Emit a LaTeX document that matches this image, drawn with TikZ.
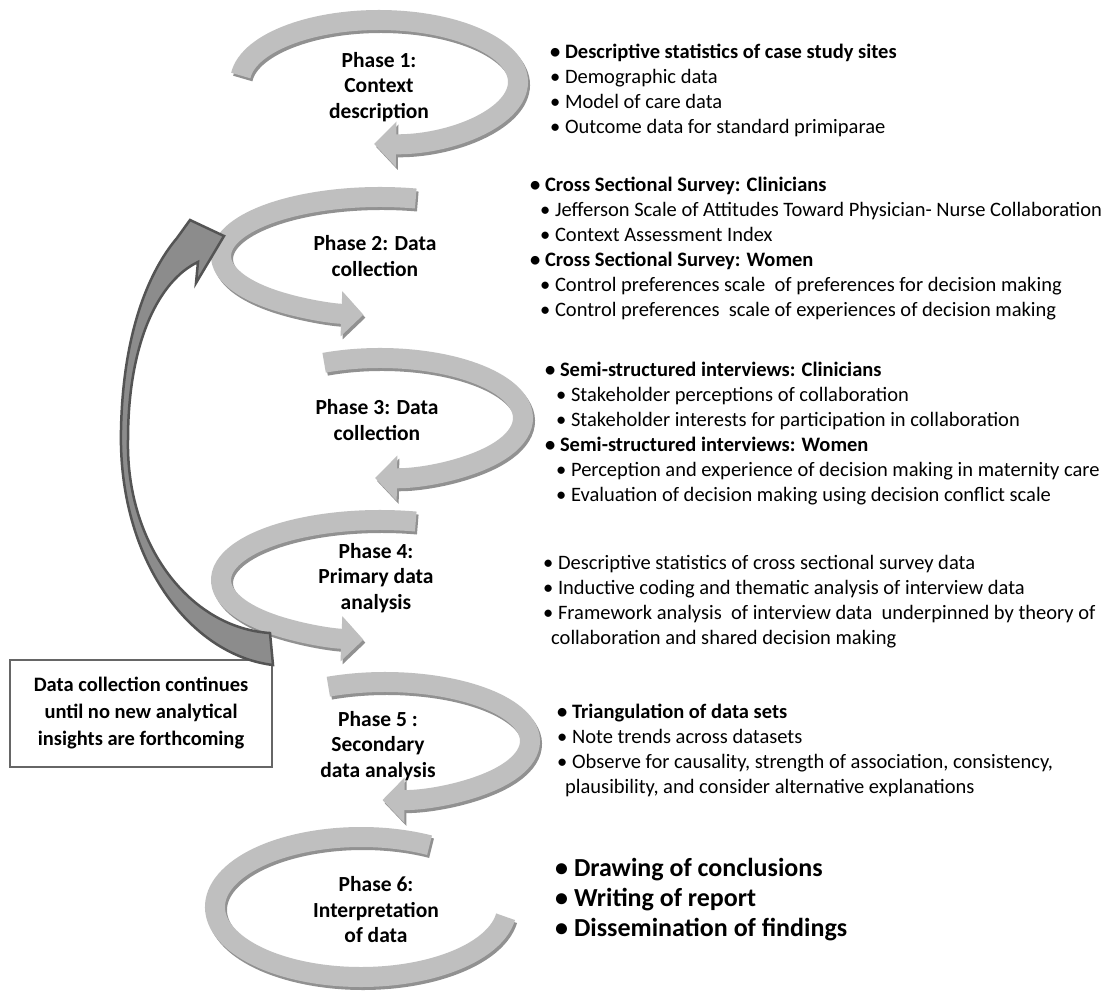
\documentclass[tikz,border=0pt]{standalone}
\usepackage{fontspec}
\setmainfont{Carlito}
\usepackage{xcolor}
\usetikzlibrary{arrows.meta}

\definecolor{bandgrey}{gray}{0.75}
\definecolor{bandshade}{gray}{0.57}
\definecolor{loopfill}{gray}{0.55}
\definecolor{loopline}{gray}{0.33}
\definecolor{boxline}{gray}{0.4}

\tikzset{
  band/.style={line width=20pt, draw=bandgrey},
  bandshadow/.style={line width=20pt, draw=bandshade},
  phasetip/.style={-{Triangle[length=22pt,width=44pt]}},
  phaselabel/.style={font=\fontsize{21.5}{25.5}\selectfont\bfseries, align=center, inner sep=0pt},
  itemlist/.style={font=\fontsize{20.5}{25}\selectfont, align=left, anchor=west, inner sep=0pt},
  biglist/.style={font=\fontsize{26}{30}\selectfont\bfseries, align=left, anchor=west, inner sep=0pt},
  loopbox/.style={draw=boxline, line width=1.5pt, fill=white, minimum width=262pt, minimum height=107pt, align=center, font=\fontsize{20.5}{27}\selectfont\bfseries},
  looparrow/.style={fill=loopfill, draw=loopline, line width=2.5pt, line join=miter}
}

% grey curved arrow: centre x, centre y, x radius, y radius, start, end, tip
\newcommand{\phasearrow}[7]{%
  \draw[bandshadow,#7] ([shift={(#1+2,#2+3)}]#5:#3 and #4) arc[start angle=#5, end angle=#6, x radius=#3, y radius=#4];
  \draw[band,#7] ([shift={(#1,#2)}]#5:#3 and #4) arc[start angle=#5, end angle=#6, x radius=#3, y radius=#4];
}

\begin{document}
\begin{tikzpicture}[x=1pt, y=-1pt]
  \useasboundingbox[fill=white] (0,0) rectangle (1118,990);

  % Phase arrows
  \phasearrow{379}{82}{139}{62}{186}{452}{phasetip}
  \phasearrow{380}{256}{159}{59}{283}{96}{phasetip}
  \phasearrow{380}{418}{143}{60}{247}{452}{phasetip}
  \phasearrow{380}{580}{159}{60}{283}{96}{phasetip}
  \phasearrow{385}{741}{145}{59}{247}{451}{phasetip}
  \phasearrow{361}{907}{146}{70}{298}{8}{}

  % Phase labels
  \node[phaselabel] (p1) at (379,87) {Phase 1:\\Context\\description};
  \node[phaselabel] (p2) at (375,256) {Phase 2: Data\\collection};
  \node[phaselabel] (p3) at (377,420) {Phase 3: Data\\collection};
  \node[phaselabel] (p4) at (376,578) {Phase 4:\\Primary data\\analysis};
  \node[phaselabel] (p5) at (378,746) {Phase 5 :\\Secondary\\data analysis};
  \node[phaselabel] (p6) at (376,910) {Phase 6:\\Interpretation\\of data};

  % Item lists
  \node[itemlist] (l1) at (550,90) {\textbf{\textbullet\ Descriptive statistics of case study sites}\\
    \textbullet\ Demographic data\\
    \textbullet\ Model of care data\\
    \textbullet\ Outcome data for standard primiparae};
  \node[itemlist] (l2) at (530,249) {\textbf{\textbullet\ Cross Sectional Survey: Clinicians}\\
    \hspace*{10pt}\textbullet\ Jefferson Scale of Attitudes Toward Physician- Nurse Collaboration\\
    \hspace*{10pt}\textbullet\ Context Assessment Index\\
    \textbf{\textbullet\ Cross Sectional Survey: Women}\\
    \hspace*{10pt}\textbullet\ Control preferences scale\ \ of preferences for decision making\\
    \hspace*{10pt}\textbullet\ Control preferences\ \ scale of experiences of decision making};
  \node[itemlist] (l3) at (545,434) {\textbf{\textbullet\ Semi-structured interviews: Clinicians}\\
    \hspace*{11pt}\textbullet\ Stakeholder perceptions of collaboration\\
    \hspace*{11pt}\textbullet\ Stakeholder interests for participation in collaboration\\
    \textbf{\textbullet\ Semi-structured interviews: Women}\\
    \hspace*{11pt}\textbullet\ Perception and experience of decision making in maternity care\\
    \hspace*{11pt}\textbullet\ Evaluation of decision making using decision conflict scale};
  \node[itemlist] (l4) at (543,602) {\textbullet\ Descriptive statistics of cross sectional survey data\\
    \textbullet\ Inductive coding and thematic analysis of interview data\\
    \textbullet\ Framework analysis\ \ of interview data\ \ underpinned by theory of\\
    \hspace*{8pt}collaboration and shared decision making};
  \node[itemlist] (l5) at (557,750) {\textbf{\textbullet\ Triangulation of data sets}\\
    \textbullet\ Note trends across datasets\\
    \textbullet\ Observe for causality, strength of association, consistency,\\
    \hspace*{8pt}plausibility, and consider alternative explanations};
  \node[biglist] (l6) at (555,900) {\textbullet\ Drawing of conclusions\\
    \textbullet\ Writing of report\\
    \textbullet\ Dissemination of findings};

  % Feedback box and loop arrow
  \node[loopbox] (loop) at (141,713.5) {Data collection continues\\until no new analytical\\insights are forthcoming};
  \draw[looparrow] (273,665) .. controls (190,655) and (118,560) .. (121,430)
    .. controls (123,330) and (150,270) .. (177,238) -- (190,220) -- (224,236)
    -- (196,283) -- (198,262) .. controls (160,280) and (128,340) .. (128,440)
    .. controls (126,545) and (190,628) .. (270,633) -- cycle;
\end{tikzpicture}
\end{document}
